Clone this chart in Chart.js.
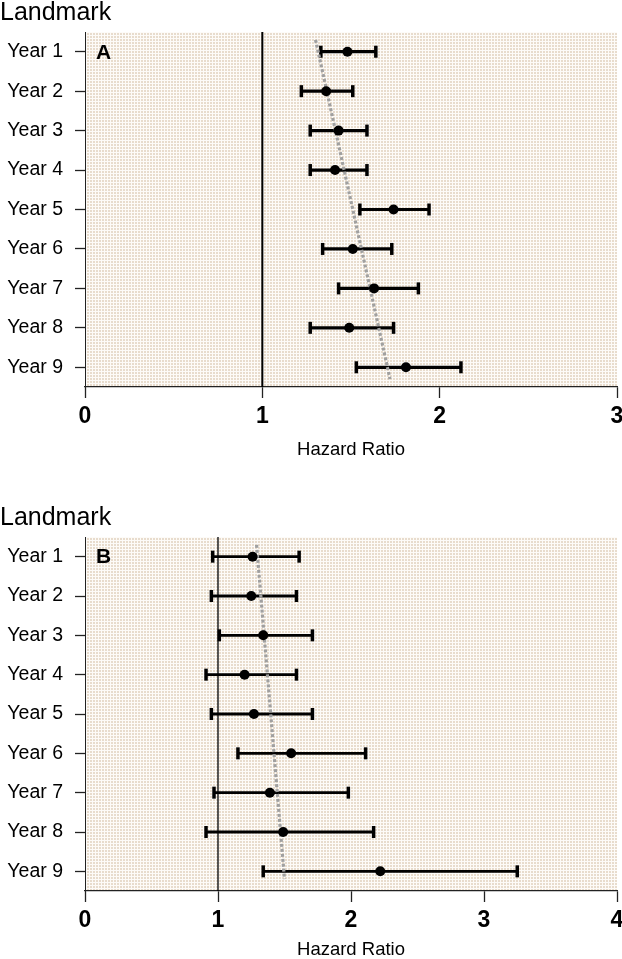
<!DOCTYPE html>
<html>
<head>
<meta charset="utf-8">
<script src="https://cdn.jsdelivr.net/npm/chart.js@4.4.1/dist/chart.umd.min.js"></script>
<style>
  body { margin: 0; background: #fff; }
  #wrap { position: relative; width: 622px; height: 959px; overflow: hidden; }
  canvas { position: absolute; left: 0; }
</style>
</head>
<body>
<div id="wrap">
  <canvas id="chartA" width="622" height="461" style="top:0px"></canvas>
  <canvas id="chartB" width="622" height="456" style="top:505px"></canvas>
</div>
<script>
// categories
const years = ['Year 1', 'Year 2', 'Year 3', 'Year 4', 'Year 5', 'Year 6', 'Year 7', 'Year 8', 'Year 9'];

// panel A: hazard ratio with 95% CI
const hrA = [1.48, 1.36, 1.43, 1.41, 1.74, 1.51, 1.63, 1.49, 1.81];
const loA = [1.33, 1.22, 1.27, 1.27, 1.55, 1.34, 1.43, 1.27, 1.53];
const hiA = [1.64, 1.51, 1.59, 1.59, 1.94, 1.73, 1.88, 1.74, 2.12];
const trendA = [1.30, 1.72];
const trendRowsA = [0.7, 9.3];
const xTicksA = [0, 1, 2, 3];

// panel B
const hrB = [1.26, 1.25, 1.34, 1.20, 1.27, 1.55, 1.39, 1.49, 2.22];
const loB = [0.96, 0.95, 1.01, 0.91, 0.95, 1.15, 0.97, 0.91, 1.34];
const hiB = [1.61, 1.59, 1.71, 1.59, 1.71, 2.11, 1.98, 2.17, 3.25];
const trendB = [1.29, 1.50];
const trendRowsB = [0.7, 9.2];
const xTicksB = [0, 1, 2, 3, 4];

const FONT = '"Liberation Sans", Arial, Helvetica, sans-serif';

function dotPattern(ctx) {
    let c = document.createElement('canvas');
    c.width = 3; c.height = 3;
    let g = c.getContext('2d');
    g.fillStyle = '#fdfbf8';
    g.fillRect(0, 0, 3, 3);
    g.fillStyle = '#e8dccd';
    g.fillRect(0, 0, 2, 2);
    return ctx.createPattern(c, 'repeat');
}

const dottedBg = {
    id: 'dottedBg',
    beforeDraw(chart) {
        let {ctx, chartArea} = chart;
        ctx.save();
        ctx.fillStyle = dotPattern(ctx);
        ctx.fillRect(chartArea.left, chartArea.top, chartArea.right - chartArea.left, chartArea.bottom - chartArea.top);
        ctx.restore();
    }
};

const panelLetter = {
    id: 'panelLetter',
    afterDraw(chart, args, opts) {
        let {ctx, chartArea, scales} = chart;
        ctx.save();
        ctx.font = 'bold 21px ' + FONT;
        ctx.fillStyle = '#000';
        ctx.textBaseline = 'middle';
        ctx.fillText(opts.text, chartArea.left + 11, scales.y.getPixelForValue(1) + 1);
        ctx.restore();
    }
};

function makeChart(id, letter, hr, lo, hi, trend, trendRows, xTicks, refWidth, barWidth, axisHeight) {
    let datasets = [];
    // points on top, then the dotted trend, then the CI bars, then the HR = 1 line
    datasets.push({
        data: hr.map((v, i) => ({x: v, y: i + 1})),
        showLine: false,
        pointRadius: 5,
        pointBackgroundColor: '#000',
        pointBorderWidth: 0,
        order: 0
    });
    datasets.push({
        data: trendRows.map((r, i) => ({x: trend[i], y: r})),
        showLine: true,
        borderColor: '#a0a0a0',
        borderWidth: 3.2,
        borderDash: [3, 2],
        pointRadius: 0,
        order: 1
    });
    years.forEach((y, i) => {
        datasets.push({
            data: [{x: lo[i], y: i + 1}, {x: hi[i], y: i + 1}],
            showLine: true,
            borderColor: '#000',
            borderWidth: barWidth,
            pointStyle: 'line',
            rotation: 90,
            pointRadius: 6,
            pointBorderColor: '#000',
            pointBorderWidth: 3.5,
            order: 2
        });
    });
    datasets.push({
        data: [{x: 1, y: 0.5}, {x: 1, y: 9.5}],
        showLine: true,
        borderColor: '#000',
        borderWidth: refWidth,
        pointRadius: 0,
        order: 3
    });

    return new Chart(document.getElementById(id), {
        type: 'scatter',
        data: {datasets: datasets},
        plugins: [dottedBg, panelLetter],
        options: {
            responsive: false,
            animation: false,
            layout: {padding: 0, autoPadding: false},
            plugins: {
                legend: {display: false},
                tooltip: {enabled: false},
                panelLetter: {text: letter},
                title: {
                    display: true,
                    text: 'Landmark',
                    align: 'start',
                    color: '#000',
                    font: {family: FONT, size: 25, weight: 'normal', lineHeight: 1.05},
                    padding: {top: 0, bottom: 5.75}
                }
            },
            scales: {
                x: {
                    type: 'linear',
                    min: 0,
                    max: xTicks[xTicks.length - 1],
                    afterBuildTicks: s => { s.ticks = xTicks.map(v => ({value: v})); },
                    afterFit: s => {
                        s.height = axisHeight;
                        s.paddingRight = 5;
                        s.paddingLeft = 0;
                    },
                    grid: {drawOnChartArea: false, tickLength: 11, tickColor: '#222', tickWidth: 1.3},
                    border: {color: '#222', width: 1.3},
                    ticks: {font: {family: FONT, size: 23, weight: 'bold'}, color: '#000', padding: 5, maxRotation: 0},
                    title: {
                        display: true,
                        text: 'Hazard Ratio',
                        color: '#000',
                        font: {family: FONT, size: 18.5},
                        padding: {top: 0, bottom: 0}
                    }
                },
                y: {
                    type: 'linear',
                    min: 0.5,
                    max: 9.5,
                    reverse: true,
                    afterBuildTicks: s => { s.ticks = years.map((_, i) => ({value: i + 1})); },
                    afterFit: s => { s.width = 85; },
                    grid: {drawOnChartArea: false, tickLength: 10, tickColor: '#222', tickWidth: 1.3},
                    border: {color: '#222', width: 1},
                    ticks: {
                        callback: v => years[v - 1],
                        font: {family: FONT, size: 19.5},
                        color: '#000',
                        padding: 12
                    }
                }
            }
        }
    });
}

makeChart('chartA', 'A', hrA, loA, hiA, trendA, trendRowsA, xTicksA, 2, 3.2, 74);
makeChart('chartB', 'B', hrB, loB, hiB, trendB, trendRowsB, xTicksB, 1.3, 2.8, 70);
</script>
</body>
</html>
